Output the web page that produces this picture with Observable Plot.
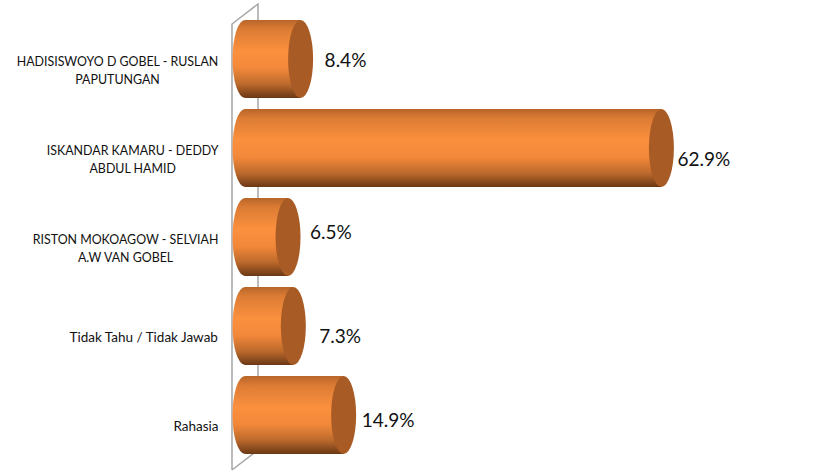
<!DOCTYPE html>
<html>
<head>
<meta charset="utf-8">
<style>html,body{margin:0;padding:0;background:#fff}</style>
<script src="https://cdn.jsdelivr.net/npm/d3@7"></script>
<script src="https://cdn.jsdelivr.net/npm/@observablehq/plot@0.6"></script>
</head>
<body>
<div id="chart"></div>
<script>
const categories = [
  "HADISISWOYO D GOBEL - RUSLAN\nPAPUTUNGAN",
  "ISKANDAR KAMARU - DEDDY\nABDUL HAMID",
  "RISTON MOKOAGOW - SELVIAH\nA.W VAN GOBEL",
  "Tidak Tahu / Tidak Jawab",
  "Rahasia"
];
const values = [8.4, 62.9, 6.5, 7.3, 14.9];
const valueLabels = ["8.4%", "62.9%", "6.5%", "7.3%", "14.9%"];

const rows = categories.map((c, i) => ({c, v: values[i], t: valueLabels[i]}));
const font = "Lato, 'Open Sans', sans-serif";
const capRx = 12.5;
const labelSize = (s) => (s === s.toUpperCase() ? 12.4 : 13.5);

const canvas = document.createElement("canvas").getContext("2d");
const blockWidth = (s) => {
  canvas.font = labelSize(s) + "px Lato";
  return Math.max(...s.split("\n").map((l) => canvas.measureText(l).width));
};

function defs() {
  const g = d3.create("svg:defs");
  const grad = g.append("linearGradient").attr("id", "cyl").attr("x1", 0).attr("x2", 0).attr("y1", 0).attr("y2", 1);
  [[0, "#b8652a"], [0.12, "#dc7c34"], [0.4, "#fb903e"], [0.62, "#f2883a"], [0.82, "#bd6a2c"], [1, "#6b3815"]]
    .forEach(([o, c]) => grad.append("stop").attr("offset", o).attr("stop-color", c));
  return g.node();
}

function wall(index, scales, channels, dims) {
  const x0 = scales.x(0), d = 13, b = dims.height - 2, s = 20;
  const g = d3.create("svg:g").attr("fill", "none").attr("stroke", "#a6a6a6").attr("stroke-width", 1.5);
  g.append("path").attr("d",
    `M${x0 - d},${b}V${4 + s}L${x0 + d},4V${b - s}L${x0 - d},${b}`);
  return g.node();
}

function leftCaps(index, scales) {
  const g = d3.create("svg:g");
  const bw = scales.scales.y.bandwidth;
  rows.forEach((r) => g.append("ellipse")
    .attr("cx", scales.x(0)).attr("cy", scales.y(r.c) + bw / 2)
    .attr("rx", capRx).attr("ry", bw / 2).attr("fill", "url(#cyl)"));
  return g.node();
}

function rightCaps(index, scales) {
  const g = d3.create("svg:g");
  const bw = scales.scales.y.bandwidth;
  rows.forEach((r) => {
    g.append("ellipse")
      .attr("cx", scales.x(r.v)).attr("cy", scales.y(r.c) + bw / 2)
      .attr("rx", capRx).attr("ry", bw / 2).attr("fill", "#a95b25");
  });
  return g.node();
}

const valueNudge = [[11, 1], [3, 11], [9, -5], [13, 10], [5, 5]];

const plot = Plot.plot({
  width: 824,
  height: 472,
  margin: 0,
  style: {background: "#fff", fontFamily: font},
  x: {domain: [0, 90], range: [245, 245 + 6.62 * 90], axis: null},
  y: {domain: categories, range: [13.75, 461.25], paddingInner: 0.118, paddingOuter: 0.059, axis: null},
  marks: [
    defs,
    wall,
    leftCaps,
    Plot.barX(rows, {x1: () => 0, x2: "v", y: "c", fill: "url(#cyl)"}),
    rightCaps,
    ...rows.map((r, i) => Plot.text([r], {
      x: () => r.v, y: "c", text: "t",
      textAnchor: "start",
      dx: capRx + valueNudge[i][0], dy: valueNudge[i][1],
      fontSize: 19, fill: "#111", fontFamily: font
    })),
    ...rows.map((r) => Plot.text([r], {
      x: () => 0, y: "c", text: "c",
      textAnchor: "middle", lineHeight: 1.45,
      dx: -27 - blockWidth(r.c) / 2, dy: 9.5,
      fontSize: labelSize(r.c), fill: "#111", fontFamily: font
    }))
  ]
});
document.getElementById("chart").appendChild(plot);
</script>
</body>
</html>
